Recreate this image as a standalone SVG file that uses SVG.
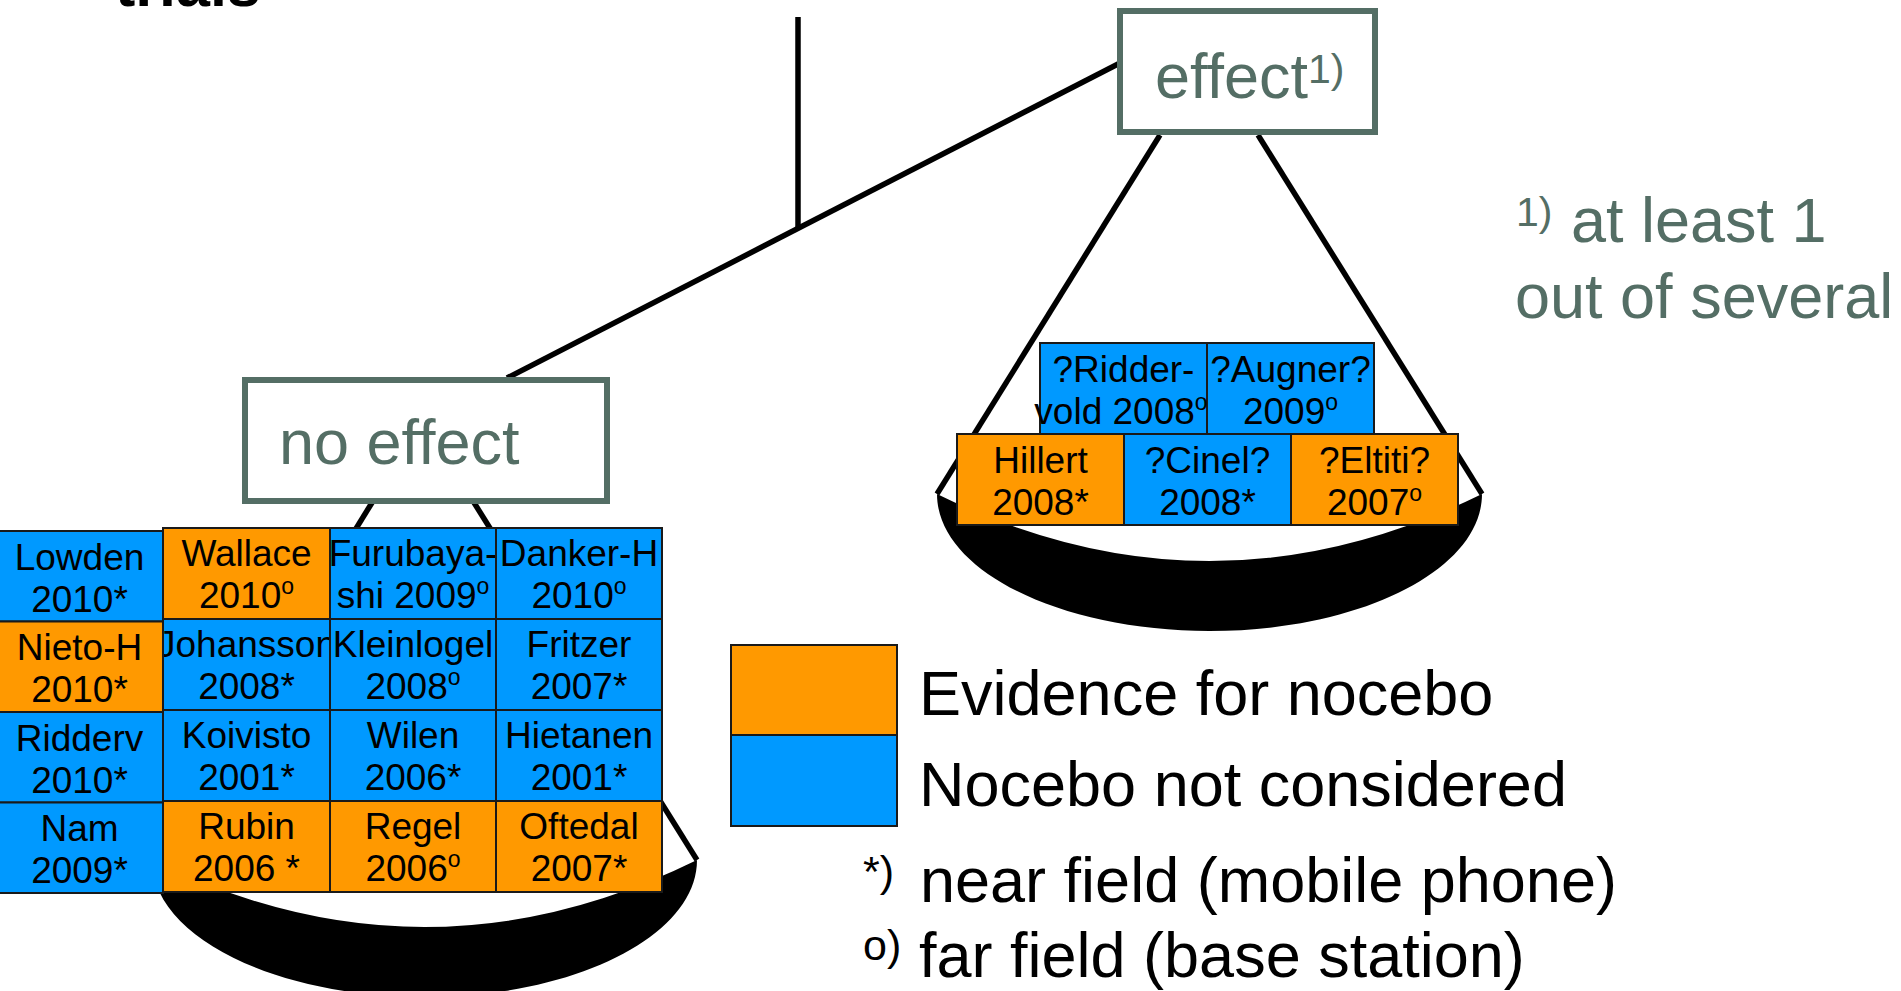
<svg xmlns="http://www.w3.org/2000/svg" width="1901" height="991" viewBox="0 0 1901 991">
<style>
  text { font-family: "Liberation Sans", Arial, sans-serif; }
  .gray { fill: #546E65; }
  .big { font-size: 63px; }
  .box { fill: #ffffff; stroke: #546E65; stroke-width: 6; }
  .line { stroke: #000000; stroke-width: 5.5; fill: none; stroke-linecap: butt; }
  .cell text { font-size: 37px; fill: #000000; text-anchor: middle; }
  .or { fill: #FF9900; stroke: #1a1a1a; stroke-width: 2; }
  .bl { fill: #0099FF; stroke: #1a1a1a; stroke-width: 2; }
  .leg { font-size: 63px; fill: #000000; }
  .sup { font-size: 23px; }
</style>
<defs>
  <path id="pan" d="M937,494 C937,570 1059,631 1209.5,631 C1360,631 1482,570 1482,494 Q1209.5,628 937,494 Z" fill="#000000"/>
</defs>

<text x="115" y="6" font-size="61" font-weight="bold" fill="#000000">trials</text>

<g id="connectors">
  <line class="line" x1="798" y1="17" x2="798" y2="228"/>
  <line class="line" x1="507" y1="378" x2="1120" y2="63" stroke-width="6"/>
  <line class="line" x1="1160" y1="135" x2="937" y2="494"/>
  <line class="line" x1="1258" y1="135" x2="1482" y2="494"/>
  <line class="line" x1="373" y1="501" x2="152" y2="860"/>
  <line class="line" x1="473" y1="501" x2="697" y2="860"/>
</g>

<g id="pan-right"><use href="#pan"/></g>
<g id="pan-left"><use href="#pan" transform="translate(-785,366)"/></g>

<g id="effect">
  <rect class="box" x="1120" y="11" width="255" height="121"/>
  <text class="gray big" x="1155" y="98">effect<tspan font-size="41" dy="-15">1)</tspan></text>
</g>

<g id="no-effect">
  <rect class="box" x="245" y="380" width="362" height="121"/>
  <text class="gray big" x="279" y="464">no effect</text>
</g>

<g id="note">
  <text class="gray" x="1516" y="226" font-size="41">1)</text>
  <text class="gray big" x="1571" y="242">at least 1</text>
  <text class="gray big" x="1515" y="318">out of several</text>
</g>

<!-- left grid: columns 1,2,3 then column 0 -->
<g id="cell-wallace" class="cell"><rect class="or" x="163" y="528" width="167" height="91"/><text x="246.5" y="566">Wallace</text><text x="246.5" y="608">2010<tspan class="sup" dy="-14">o</tspan></text></g>
<g id="cell-johansson" class="cell"><rect class="bl" x="163" y="619" width="167" height="91"/><text x="246.5" y="657">Johansson</text><text x="246.5" y="699">2008*</text></g>
<g id="cell-koivisto" class="cell"><rect class="bl" x="163" y="710" width="167" height="91"/><text x="246.5" y="748">Koivisto</text><text x="246.5" y="790">2001*</text></g>
<g id="cell-rubin" class="cell"><rect class="or" x="163" y="801" width="167" height="91"/><text x="246.5" y="839">Rubin</text><text x="246.5" y="881">2006 *</text></g>

<g id="cell-furubayashi" class="cell"><rect class="bl" x="330" y="528" width="166" height="91"/><text x="413" y="566">Furubaya-</text><text x="413" y="608">shi 2009<tspan class="sup" dy="-14">o</tspan></text></g>
<g id="cell-kleinlogel" class="cell"><rect class="bl" x="330" y="619" width="166" height="91"/><text x="413" y="657">Kleinlogel</text><text x="413" y="699">2008<tspan class="sup" dy="-14">o</tspan></text></g>
<g id="cell-wilen" class="cell"><rect class="bl" x="330" y="710" width="166" height="91"/><text x="413" y="748">Wilen</text><text x="413" y="790">2006*</text></g>
<g id="cell-regel" class="cell"><rect class="or" x="330" y="801" width="166" height="91"/><text x="413" y="839">Regel</text><text x="413" y="881">2006<tspan class="sup" dy="-14">o</tspan></text></g>

<g id="cell-danker" class="cell"><rect class="bl" x="496" y="528" width="166" height="91"/><text x="579" y="566">Danker-H</text><text x="579" y="608">2010<tspan class="sup" dy="-14">o</tspan></text></g>
<g id="cell-fritzer" class="cell"><rect class="bl" x="496" y="619" width="166" height="91"/><text x="579" y="657">Fritzer</text><text x="579" y="699">2007*</text></g>
<g id="cell-hietanen" class="cell"><rect class="bl" x="496" y="710" width="166" height="91"/><text x="579" y="748">Hietanen</text><text x="579" y="790">2001*</text></g>
<g id="cell-oftedal" class="cell"><rect class="or" x="496" y="801" width="166" height="91"/><text x="579" y="839">Oftedal</text><text x="579" y="881">2007*</text></g>

<g id="cell-lowden" class="cell"><rect class="bl" x="-4" y="531" width="167" height="90.5"/><text x="79.5" y="570">Lowden</text><text x="79.5" y="612">2010*</text></g>
<g id="cell-nieto" class="cell"><rect class="or" x="-4" y="621.5" width="167" height="90.5"/><text x="79.5" y="660">Nieto-H</text><text x="79.5" y="702">2010*</text></g>
<g id="cell-ridderv" class="cell"><rect class="bl" x="-4" y="712" width="167" height="90.5"/><text x="79.5" y="751">Ridderv</text><text x="79.5" y="793">2010*</text></g>
<g id="cell-nam" class="cell"><rect class="bl" x="-4" y="802.5" width="167" height="90.5"/><text x="79.5" y="841">Nam</text><text x="79.5" y="883">2009*</text></g>

<!-- right pan cells -->
<g id="cell-augner" class="cell"><rect class="bl" x="1207" y="343" width="167" height="91"/><text x="1290.5" y="382">?Augner?</text><text x="1290.5" y="424">2009<tspan class="sup" dy="-14">o</tspan></text></g>
<g id="cell-riddervold" class="cell"><rect class="bl" x="1040" y="343" width="167" height="91"/><text x="1123.5" y="382">?Ridder-</text><text x="1121" y="424">vold 2008<tspan class="sup" dy="-14">o</tspan></text></g>
<g id="cell-hillert" class="cell"><rect class="or" x="957" y="434" width="167" height="91"/><text x="1040.5" y="473">Hillert</text><text x="1040.5" y="515">2008*</text></g>
<g id="cell-cinel" class="cell"><rect class="bl" x="1124" y="434" width="167" height="91"/><text x="1207.5" y="473">?Cinel?</text><text x="1207.5" y="515">2008*</text></g>
<g id="cell-eltiti" class="cell"><rect class="or" x="1291" y="434" width="167" height="91"/><text x="1374.5" y="473">?Eltiti?</text><text x="1374.5" y="515">2007<tspan class="sup" dy="-14">o</tspan></text></g>

<g id="legend">
  <rect class="or" x="731" y="645" width="166" height="90"/>
  <rect class="bl" x="731" y="735" width="166" height="91"/>
  <text class="leg" x="919" y="715">Evidence for nocebo</text>
  <text class="leg" x="919" y="806">Nocebo not considered</text>
  <text x="863" y="886" font-size="43" fill="#000000">*)</text>
  <text class="leg" x="920" y="902">near field (mobile phone)</text>
  <text x="863" y="960" font-size="43" fill="#000000">o)</text>
  <text class="leg" x="919" y="977">far field (base station)</text>
</g>
</svg>
